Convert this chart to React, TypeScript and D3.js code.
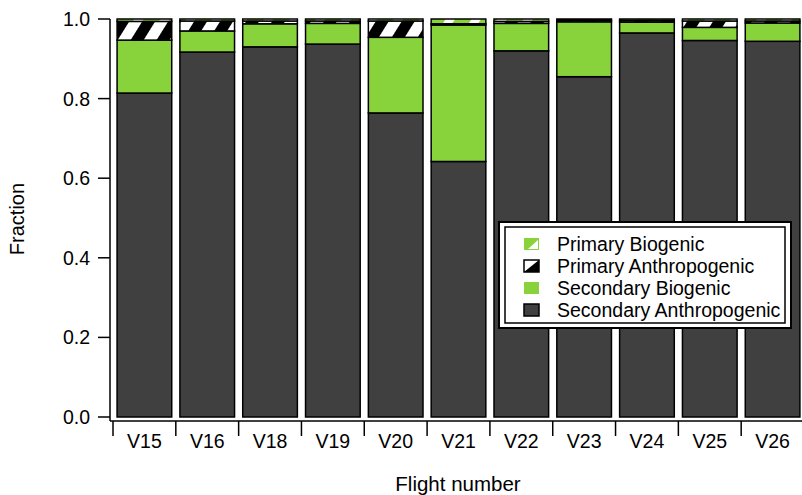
import React from "react";
import * as d3 from "d3";

const flights = ["V15", "V16", "V18", "V19", "V20", "V21", "V22", "V23", "V24", "V25", "V26"];
const secondaryAnthropogenic = [0.814, 0.917, 0.93, 0.937, 0.764, 0.642, 0.92, 0.855, 0.965, 0.946, 0.944];
const secondaryBiogenic = [0.133, 0.053, 0.058, 0.052, 0.19, 0.343, 0.069, 0.138, 0.027, 0.033, 0.046];
const primaryAnthropogenic = [0.047, 0.025, 0.007, 0.006, 0.041, 0.003, 0.005, 0.004, 0.004, 0.016, 0.005];
const primaryBiogenic = [0.006, 0.005, 0.005, 0.005, 0.005, 0.012, 0.006, 0.003, 0.004, 0.005, 0.005];
const yTicks = [0, 0.2, 0.4, 0.6, 0.8, 1.0];

const GREEN = "#88d23c";
const DARK = "#404040";
const FONT = "Liberation Sans, Arial, sans-serif";

const series = [
  { key: "sa", label: "Secondary Anthropogenic", values: secondaryAnthropogenic, fill: DARK },
  { key: "sb", label: "Secondary Biogenic", values: secondaryBiogenic, fill: GREEN },
  { key: "pa", label: "Primary Anthropogenic", values: primaryAnthropogenic, fill: "url(#hatchPA)" },
  { key: "pb", label: "Primary Biogenic", values: primaryBiogenic, fill: "url(#hatchPB)" },
];

export default function App() {
  const W = 802, H = 495;
  const x = d3.scaleBand<string>().domain(flights).range([113, 804]).padding(0);
  const step = x.step();
  const inset = step * 0.065;
  const y = d3.scaleLinear().domain([0, 1]).range([417, 19]);

  const rows = flights.map((f, i) => {
    const o: any = { flight: f };
    series.forEach((s) => (o[s.key] = s.values[i]));
    return o;
  });
  const stacked = d3.stack<any>().keys(series.map((s) => s.key))(rows);

  const legendRows = [
    { label: "Primary Biogenic", kind: "pb" },
    { label: "Primary Anthropogenic", kind: "pa" },
    { label: "Secondary Biogenic", kind: "sb" },
    { label: "Secondary Anthropogenic", kind: "sa" },
  ];

  return (
    <svg width={W} height={H} style={{ position: "absolute", left: 0, top: 0, background: "#fff" }} fontFamily={FONT}>
      <defs>
        <pattern id="hatchPA" patternUnits="userSpaceOnUse" width="22" height="22" patternTransform="rotate(32)">
          <rect width="22" height="22" fill="#fff" />
          <rect width="11" height="22" fill="#000" />
        </pattern>
        <pattern id="hatchPB" patternUnits="userSpaceOnUse" width="22" height="22" patternTransform="rotate(32)">
          <rect width="22" height="22" fill="#fff" />
          <rect width="14" height="22" fill={GREEN} />
        </pattern>
      </defs>
      <rect width={W} height={H} fill="#fff" />

      {stacked.map((layer, li) => (
        <g key={series[li].key}>
          {layer.map((d, i) => (
            <rect
              key={flights[i]}
              x={(x(flights[i]) as number) + inset}
              width={step - 2 * inset}
              y={y(d[1])}
              height={Math.max(0, y(d[0]) - y(d[1]))}
              fill={series[li].fill}
              stroke="#000"
              strokeWidth={1.5}
            />
          ))}
        </g>
      ))}

      {/* Y axis */}
      <line x1={110} x2={110} y1={y(1)} y2={421} stroke="#000" strokeWidth={1.5} />
      {yTicks.map((t) => (
        <g key={t}>
          <line x1={98} x2={110} y1={y(t)} y2={y(t)} stroke="#000" strokeWidth={1.5} />
          <text x={90} y={y(t)} dy="0.36em" textAnchor="end" fontSize={19.5}>
            {t.toFixed(1)}
          </text>
        </g>
      ))}
      <text transform={`translate(24,219) rotate(-90)`} textAnchor="middle" fontSize={20}>
        Fraction
      </text>

      {/* X axis */}
      <line x1={110} x2={W} y1={421} y2={421} stroke="#000" strokeWidth={1.5} />
      {flights.map((f) => (
        <g key={f}>
          <line x1={x(f) as number} x2={x(f) as number} y1={421} y2={436} stroke="#000" strokeWidth={1.5} />
          <text x={(x(f) as number) + step / 2} y={448} textAnchor="middle" fontSize={19.5}>
            {f}
          </text>
        </g>
      ))}
      <text x={458} y={491} textAnchor="middle" fontSize={20.5}>
        Flight number
      </text>

      {/* Legend */}
      <rect x={499} y={222} width={292} height={106} fill="#fff" stroke="#000" strokeWidth={2} />
      <rect x={505} y={227} width={280} height={96} fill="none" stroke="#000" strokeWidth={1.5} />
      {legendRows.map((r, i) => {
        const cy = 244 + i * 22;
        const sx = 524, sw = 15, sh = 12;
        const sy = cy - sh / 2;
        return (
          <g key={r.kind}>
            {r.kind === "pb" && (
              <g>
                <rect x={sx} y={sy} width={sw} height={sh} fill={GREEN} />
                <polygon points={`${sx + sw - 1},${sy + 2} ${sx + sw - 1},${sy + sh - 1} ${sx + 4},${sy + sh - 1}`} fill="#fff" />
              </g>
            )}
            {r.kind === "pa" && (
              <g>
                <rect x={sx} y={sy} width={sw} height={sh} fill="#fff" stroke="#000" strokeWidth={1.5} />
                <polygon points={`${sx + sw},${sy} ${sx + sw},${sy + sh} ${sx},${sy + sh}`} fill="#000" />
              </g>
            )}
            {r.kind === "sb" && <rect x={sx} y={sy} width={sw} height={sh} fill={GREEN} />}
            {r.kind === "sa" && <rect x={sx} y={sy} width={sw} height={sh} fill={DARK} stroke="#000" strokeWidth={1.5} />}
            <text x={557} y={cy} dy="0.36em" fontSize={19.5}>
              {r.label}
            </text>
          </g>
        );
      })}
    </svg>
  );
}
